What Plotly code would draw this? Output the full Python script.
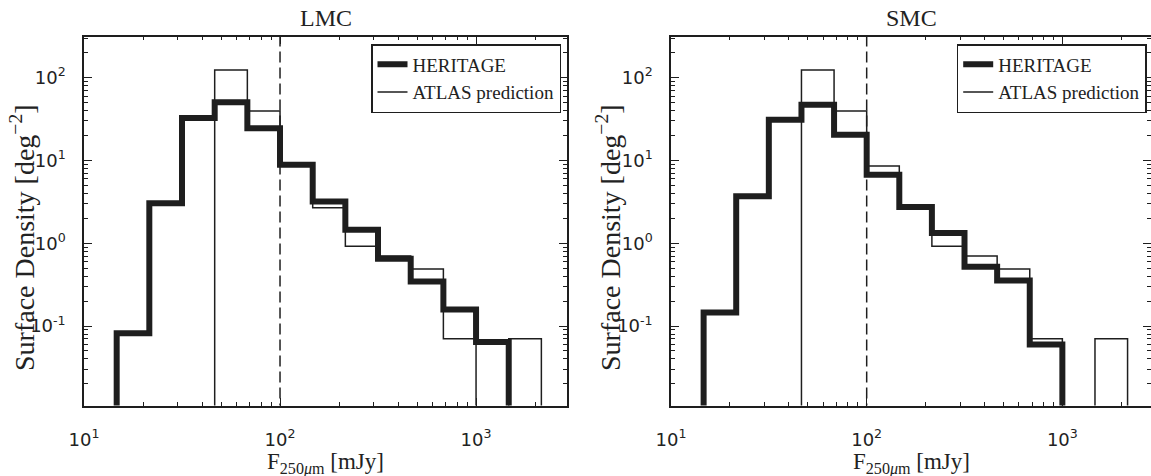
import plotly.graph_objects as go

# ---------------- data ----------------
bin_edges = [14.68, 21.54, 31.62, 46.42, 68.13, 100.0, 146.8, 215.4, 316.2,
             464.2, 681.3, 1000.0, 1468.0, 2154.0]
lmc_heritage = [0.082, 3.05, 32.5, 50.5, 24.5, 8.85, 3.2, 1.46, 0.65, 0.345,
                0.158, 0.064, 0]
smc_heritage = [0.146, 3.7, 31.0, 47.0, 20.4, 6.7, 2.75, 1.33, 0.52, 0.355,
                0.060, 0, 0]
atlas_prediction = [0, 0, 0, 124, 39.7, 8.6, 2.68, 0.92, 0.70, 0.49, 0.070,
                    0, 0.070]
completeness_limit = 100
panel_titles = ["LMC", "SMC"]
x_tickvals = [10, 100, 1000]
x_ticktext = ["10<sup>1</sup>", "10<sup>2</sup>", "10<sup>3</sup>"]
y_tickvals = [0.1, 1, 10, 100]
y_ticktext = ["10<sup>-1</sup>", "10<sup>0</sup>", "10<sup>1</sup>", "10<sup>2</sup>"]

# ---------------- style ----------------
W, H = 1151, 476
INK = "#1e1e1e"
TXT = "#222"
SERIF = "Liberation Serif"
SANS = "DejaVu Sans"
FLOOR = 1e-4


def step_xy(edges, vals):
    v = [val if val > 0 else FLOOR for val in vals]
    return [edges[0]] + list(edges), [FLOOR] + v + [FLOOR]


fig = go.Figure()

panels = [
    dict(x="x", y="y", her=lmc_heritage, legend="legend"),
    dict(x="x2", y="y2", her=smc_heritage, legend="legend2"),
]
for p in panels:
    hx, hy = step_xy(bin_edges, p["her"])
    fig.add_trace(go.Scatter(x=hx, y=hy, mode="lines", line_shape="hv",
                             line=dict(color=INK, width=6),
                             name="HERITAGE", xaxis=p["x"], yaxis=p["y"],
                             legend=p["legend"]))
    ax, ay = step_xy(bin_edges, atlas_prediction)
    fig.add_trace(go.Scatter(x=ax, y=ay, mode="lines", line_shape="hv",
                             line=dict(color=INK, width=1.5),
                             name="ATLAS prediction", xaxis=p["x"], yaxis=p["y"],
                             legend=p["legend"]))
    fig.add_trace(go.Scatter(x=[completeness_limit, completeness_limit],
                             y=[FLOOR, 1e4], mode="lines",
                             line=dict(color=INK, width=1.5, dash="11px,5px"),
                             showlegend=False, xaxis=p["x"], yaxis=p["y"]))

x_minor = [m * 10 ** d for d in (1, 2, 3) for m in range(2, 10)]
y_minor = [m * 10.0 ** d for d in (-2, -1, 0, 1, 2) for m in range(2, 10)]

Y_DOM = [1 - 405.5 / H, 1 - 36.7 / H]


def xaxis(domain, rng, anchor):
    return dict(type="log", domain=domain, range=rng, anchor=anchor,
                automargin=False, showline=True,
                linecolor=INK, linewidth=1.5, mirror="allticks",
                ticks="inside", ticklen=8, tickwidth=1, tickcolor=INK,
                tickvals=x_tickvals, ticktext=x_ticktext, showgrid=False,
                zeroline=False, ticklabelstandoff=17,
                tickfont=dict(family=SANS, size=18, color=TXT),
                minor=dict(ticks="inside", ticklen=4, tickwidth=1,
                           tickcolor=INK, tickvals=x_minor, showgrid=False))


def yaxis(anchor):
    return dict(type="log", domain=Y_DOM, range=[-1.96, 2.495],
                anchor=anchor, automargin=False, showline=True,
                linecolor=INK, linewidth=1.5, mirror="allticks",
                ticks="inside", ticklen=8, tickwidth=1, tickcolor=INK,
                tickvals=y_tickvals, ticktext=y_ticktext, showgrid=False,
                zeroline=False, ticklabelstandoff=13,
                tickfont=dict(family=SANS, size=18, color=TXT),
                minor=dict(ticks="inside", ticklen=4, tickwidth=1,
                           tickcolor=INK, tickvals=y_minor, showgrid=False))


legend_common = dict(yanchor="top", y=1 - 44 / H, xanchor="right",
                     bordercolor=INK, borderwidth=1.5, bgcolor="white",
                     tracegroupgap=0,
                     font=dict(family=SERIF, size=19, color=TXT))

annotations = []
for cx, title in zip([(84 + 567) / 2 / W, (671 + 1152.7) / 2 / W], panel_titles):
    annotations.append(dict(text=title, x=cx, y=1 - 18 / H, xref="paper",
                            yref="paper", xanchor="center", yanchor="middle",
                            showarrow=False,
                            font=dict(family=SERIF, size=24, color=TXT)))
    annotations.append(dict(text="F<sub>250<i>μ</i>m</sub> [mJy]", x=cx,
                            y=1 - 463 / H, xref="paper", yref="paper",
                            xanchor="center", yanchor="middle",
                            showarrow=False,
                            font=dict(family=SERIF, size=23, color=TXT)))
for lx in [22 / W, 608 / W]:
    annotations.append(dict(text="Surface Density [deg<sup>−2</sup>]", x=lx,
                            y=1 - 238 / H,
                            xref="paper", yref="paper", xanchor="center",
                            yanchor="middle", showarrow=False,
                            textangle=-90,
                            font=dict(family=SERIF, size=28, color=TXT)))

fig.update_layout(
    width=W, height=H, margin=dict(l=0, r=0, t=0, b=0, autoexpand=False),
    paper_bgcolor="white", plot_bgcolor="white",
    xaxis=xaxis([84 / W, 567 / W], [1, 3.464], "y"),
    xaxis2=xaxis([671 / W, 1.0], [1, 3.453], "y2"),
    yaxis=yaxis("x"), yaxis2=yaxis("x2"),
    legend=dict(x=561 / W, **legend_common),
    legend2=dict(x=1146.7 / W, **legend_common),
    annotations=annotations,
)

fig.write_html("out.html")
